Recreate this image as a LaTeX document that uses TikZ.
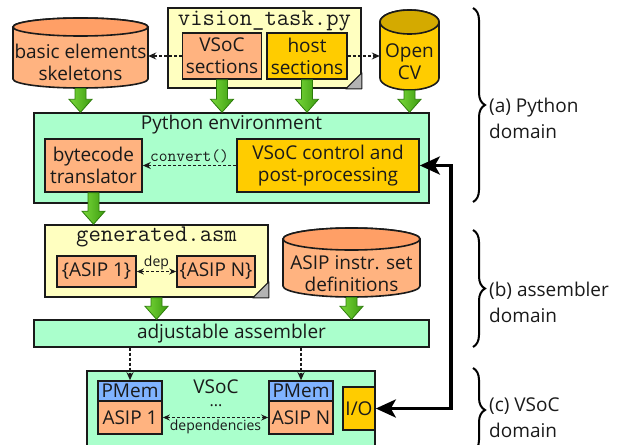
\documentclass[tikz,border=0pt]{standalone}
\usepackage{fontspec}
\setmainfont{Open Sans}
\usetikzlibrary{arrows.meta,decorations.pathreplacing,calc}

\definecolor{ink}{HTML}{1A1A1A}
\definecolor{salmon}{HTML}{FFB380}
\definecolor{salmontop}{HTML}{FF9F66}
\definecolor{gold}{HTML}{FFCC00}
\definecolor{goldtop}{HTML}{D4AA00}
\definecolor{mint}{HTML}{AAFFCC}
\definecolor{notepaper}{HTML}{FFFFC0}
\definecolor{pmemblue}{HTML}{80B3FF}
\definecolor{foldgrey}{HTML}{B3B3B3}
\definecolor{greenlight}{HTML}{7AD83A}
\definecolor{greendark}{HTML}{3C9C10}
\definecolor{greenedge}{HTML}{2D7D0A}

\newcommand\boxfont{\fontsize{19}{22}\selectfont}
\newcommand\smallfont{\fontsize{14}{16}\selectfont}

% cylinder: name, centre x, top y, width, height, end radius, body colour, top colour, text
\newcommand\drum[9]{%
  \path[drumline, fill=#7] (#2-#4/2,#3+#6) -- (#2-#4/2,#3+#5-#6)
     arc[start angle=180, end angle=0, x radius=#4/2, y radius=#6]
     -- (#2+#4/2,#3+#6)
     arc[start angle=0, end angle=-180, x radius=#4/2, y radius=#6] -- cycle;
  \path[drumline, fill=#8] (#2,#3+#6) ellipse[x radius=#4/2, y radius=#6];
  \node[drumtext, minimum width=#4, minimum height=#5-2*#6] (#1) at (#2,#3+#6+#5/2) {#9};
}

\tikzset{
  box/.style={draw=ink, line width=1.6pt, inner sep=0pt, align=center, font=\boxfont, text=ink},
  salmonbox/.style={box, fill=salmon},
  goldbox/.style={box, fill=gold},
  bluebox/.style={box, fill=pmemblue},
  envbox/.style={box, fill=mint, line width=1.4pt},
  notebox/.style={box, fill=notepaper},
  foldcorner/.style={fill=foldgrey, draw=ink, line width=1pt, line join=round},
  title/.style={inner sep=0pt, font=\boxfont, text=ink},
  codetitle/.style={inner sep=0pt, font=\ttfamily\fontsize{24}{26}\selectfont, text=ink},
  drumline/.style={draw=ink, line width=1.6pt},
  drumtext/.style={inner sep=0pt, align=center, font=\boxfont, text=ink},
  dotarrow/.style={draw=ink, line width=1.3pt, dash pattern=on 3pt off 2pt,
    -{Stealth[length=8pt,width=7pt]}},
  dotboth/.style={dotarrow, {Stealth[length=7pt,width=6pt]}-{Stealth[length=7pt,width=6pt]}},
  heavyboth/.style={draw=black, line width=3.6pt,
    {Stealth[length=20pt,width=18pt,inset=5pt]}-{Stealth[length=20pt,width=18pt,inset=5pt]}},
  fatarrow/.style={draw=greenedge, line width=0.8pt, line join=miter,
    left color=greenlight, right color=greendark,
    to path={let \p1=(\tikztostart), \p2=(\tikztotarget) in
      (\x1-5.5pt,\y1) -- (\x1+5.5pt,\y1) -- (\x1+5.5pt,\y2+13pt) -- (\x1+11.5pt,\y2+13pt)
      -- (\x1,\y2) -- (\x1-11.5pt,\y2+13pt) -- (\x1-5.5pt,\y2+13pt) -- cycle}},
  bracedeco/.style={draw=black, line width=2pt, decorate,
    decoration={brace, amplitude=12pt}},
  sidelabel/.style={anchor=west, align=left, inner sep=0pt, text=ink,
    font=\fontsize{19}{26}\selectfont},
  edgelabel/.style={inner sep=1pt, text=ink},
}

\begin{document}
\begin{tikzpicture}[x=1pt,y=-1pt]
\useasboundingbox (0,0) rectangle (620,444);
\clip (0,0) rectangle (620,444);

% ---------- Python domain ----------
\drum{bes}{80.5}{18}{135}{70}{9}{salmon}{salmontop}{basic elements\\skeletons}
\drum{ocv}{409.5}{10}{59}{80}{12}{gold}{goldtop}{Open\\CV}

\node[notebox, minimum width=193, minimum height=80] (vtask) at (264.5,48) {};
\filldraw[foldcorner] (vtask.south east) -- ++(0,-16) -- ++(-16,16) -- cycle;
\node[codetitle] (vtitle) at (264.5,21) {vision\_task.py};
\node[salmonbox, minimum width=79, minimum height=46] (vsec) at (222,56) {VSoC\\sections};
\node[goldbox, minimum width=80, minimum height=46] (hsec) at (307,56) {host\\sections};

\draw[dotarrow] (vsec.west) -- (vsec.west -| bes.east);
\draw[dotarrow] (hsec.east) -- (hsec.east -| ocv.west);

\node[envbox, minimum width=395, minimum height=90] (pyenv) at (231.5,158) {};
\node[title] (pytitle) at (231.5,125) {Python environment};
\node[salmonbox, minimum width=97, minimum height=53] (bct) at (93.5,165.5) {bytecode\\translator};
\node[goldbox, minimum width=182, minimum height=53] (ctl) at (328,165.5) {VSoC control and\\post-processing};
\draw[dotarrow] (ctl.west) -- (bct.east)
  node[midway, above=1pt, edgelabel, font=\ttfamily\fontsize{17}{19}\selectfont] (conv) {convert()};

\path[fatarrow] (bes.south) to (bes.south |- pyenv.north);
\path[fatarrow] (vsec.south) to (vsec.south |- pyenv.north);
\path[fatarrow] (hsec.south) to (hsec.south |- pyenv.north);
\path[fatarrow] (ocv.south) to (ocv.south |- pyenv.north);

% ---------- assembler domain ----------
\node[notebox, minimum width=223, minimum height=72] (gasm) at (156.5,261) {};
\filldraw[foldcorner] (gasm.south east) -- ++(0,-16) -- ++(-16,16) -- cycle;
\node[codetitle] (gtitle) at (156.5,237) {generated.asm};
\node[salmonbox, minimum width=79, minimum height=31] (a1g) at (96.5,271.5) {\{ASIP 1\}};
\node[salmonbox, minimum width=78, minimum height=31] (aNg) at (216,271.5) {\{ASIP N\}};
\draw[dotboth] (a1g.east) -- (aNg.west)
  node[midway, above=0pt, edgelabel, font=\smallfont] (dep) {dep};

\drum{isa}{351.5}{228}{137}{69}{11}{salmon}{salmontop}{ASIP instr. set\\definitions}

\path[fatarrow] (bct.south) to (bct.south |- gasm.north);

\node[envbox, minimum width=395, minimum height=27] (asm) at (231.5,333.5) {adjustable assembler};
\path[fatarrow] (gasm.south) to (gasm.south |- asm.north);
\path[fatarrow] (isa.south) to (isa.south |- asm.north);

% ---------- VSoC domain ----------
\node[envbox, minimum width=288, minimum height=99] (vsoc) at (231,420.5) {};
\node[title, align=center, anchor=base] (vsoctitle) at (216,406) {VSoC\\[-9pt]{\fontsize{16}{18}\selectfont ...}};
\node[bluebox, minimum width=64, minimum height=20] (pm1) at (130,391) {PMem};
\node[salmonbox, minimum width=64, minimum height=33] (as1) at (130,417.5) {ASIP 1};
\node[bluebox, minimum width=64, minimum height=20] (pmN) at (301,391) {PMem};
\node[salmonbox, minimum width=64, minimum height=33] (asN) at (301,417.5) {ASIP N};
\node[goldbox, minimum width=32, minimum height=43] (io) at (359,408.5) {I/O};

\draw[dotboth] (as1.east) -- (asN.west)
  node[midway, below=1pt, edgelabel, font=\smallfont] (deps) {dependencies};
\draw[dotarrow] (asm.south -| pm1) -- (pm1.north);
\draw[dotarrow] (asm.south -| pmN) -- (pmN.north);

\draw[heavyboth] (ctl.east) -- ++(31,0) |- (io.east);

% ---------- domain braces ----------
\draw[bracedeco] (473,8) -- (473,202);
\node[sidelabel] (lbla) at (489,118) {(a) Python\\domain};
\draw[bracedeco] (473,230) -- (473,347);
\node[sidelabel] (lblb) at (489,302) {(b) assembler\\domain};
\draw[bracedeco] (473,368) -- (473,452);
\node[sidelabel] (lblc) at (489,418) {(c) VSoC\\domain};
\end{tikzpicture}
\end{document}
